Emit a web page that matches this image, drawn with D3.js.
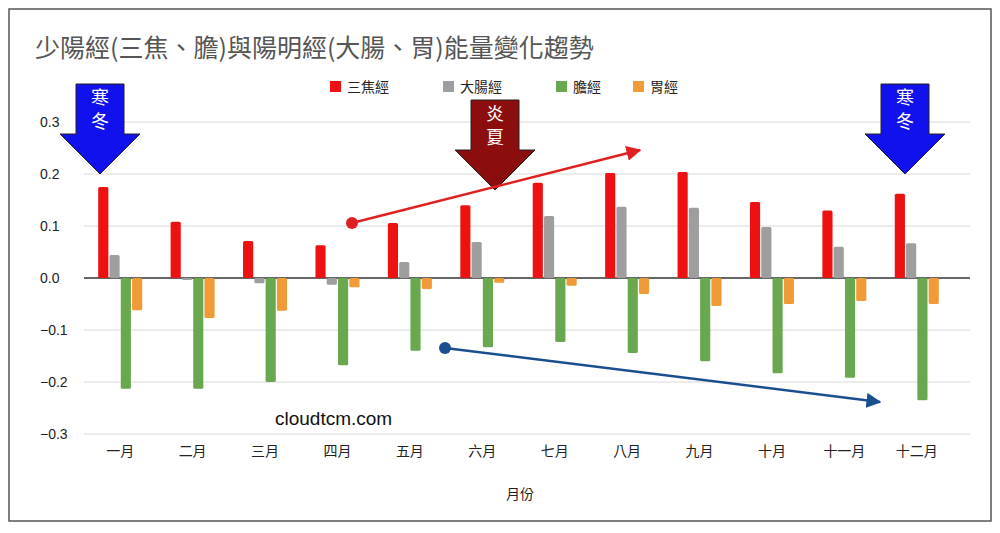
<!DOCTYPE html>
<html><head><meta charset="utf-8">
<script src="https://cdn.jsdelivr.net/npm/d3@7"></script>
<style>body{margin:0;background:#fff;font-family:"Noto Sans CJK TC","Noto Sans",sans-serif}</style>
</head><body><svg width="1000" height="533"></svg>
<script>
var months = ['一月','二月','三月','四月','五月','六月','七月','八月','九月','十月','十一月','十二月'];
var seriesNames = ['三焦經','大腸經','膽經','胃經'];
var palette = ['#ee1111','#9e9e9e','#6aa84f','#f09a38'];
var sanjiao = [0.175,0.108,0.071,0.063,0.106,0.140,0.183,0.202,0.204,0.146,0.130,0.162];
var dachang = [0.044,-0.004,-0.010,-0.013,0.031,0.069,0.119,0.137,0.135,0.098,0.060,0.067];
var dan = [-0.213,-0.213,-0.200,-0.168,-0.140,-0.133,-0.123,-0.144,-0.160,-0.183,-0.192,-0.235];
var wei = [-0.062,-0.077,-0.063,-0.018,-0.021,-0.009,-0.015,-0.031,-0.054,-0.050,-0.044,-0.050];
var yTicks = [-0.3,-0.2,-0.1,0,0.1,0.2,0.3];
var series = [sanjiao, dachang, dan, wei];

var svg = d3.select('svg');
svg.append('rect').attr('x',9).attr('y',9).attr('width',982).attr('height',512)
    .attr('fill','#fff').attr('stroke','#555').attr('stroke-width',1.5);

svg.append('text').attr('x',35).attr('y',57).attr('font-size',25).attr('fill','#555')
    .text('少陽經(三焦、膽)與陽明經(大腸、胃)能量變化趨勢');

var gridLeft = 84, gridRight = 970;
var x = d3.scaleBand().domain(months).range([84, 953]);
var y = d3.scaleLinear().domain([-0.3,0.3]).range([434,122]);
var xs = d3.scaleBand().domain(d3.range(4)).range([-22,22]).paddingInner(0.1);

// grid
svg.append('g').selectAll('line').data(yTicks).join('line')
    .attr('x1',gridLeft).attr('x2',gridRight).attr('y1',d=>y(d)).attr('y2',d=>y(d))
    .attr('stroke',d=>d===0?'#333':'#d8d8d8').attr('stroke-width',d=>d===0?1.5:1);
svg.append('g').selectAll('text').data(yTicks).join('text')
    .attr('x',40).attr('y',d=>y(d)+5).attr('font-size',14).attr('fill','#222')
    .attr('font-family','Liberation Sans, Arial').text(d=>d3.format('.1f')(d));

var g = svg.append('g');
series.forEach(function (vals, si) {
    g.selectAll('.s'+si).data(vals).join('rect')
        .attr('x',(d,i)=>x(months[i])+x.bandwidth()/2+xs(si))
        .attr('width',xs.bandwidth())
        .attr('y',d=>y(Math.max(0,d)))
        .attr('height',d=>Math.abs(y(d)-y(0)))
        .attr('rx',1.5).attr('fill',palette[si]);
});

svg.append('g').selectAll('text').data(months).join('text')
    .attr('x',d=>x(d)+x.bandwidth()/2).attr('y',456).attr('text-anchor','middle')
    .attr('font-size',14).attr('fill','#222').text(d=>d);
svg.append('text').attr('x',520).attr('y',499).attr('text-anchor','middle')
    .attr('font-size',14).attr('fill','#222').text('月份');

// legend
var lx = [330,443,556,633];
seriesNames.forEach(function (n,i) {
    svg.append('rect').attr('x',lx[i]).attr('y',81).attr('width',11).attr('height',11).attr('fill',palette[i]);
    svg.append('text').attr('x',lx[i]+17).attr('y',92).attr('font-size',14).attr('fill','#222').text(n);
});

// watermark
svg.append('text').attr('x',275).attr('y',425).attr('font-size',19).attr('fill','#111')
    .attr('font-family','Liberation Sans, Arial').text('cloudtcm.com');

// block arrows
function blockArrow(cx, top, fill, label) {
    var p = d3.path();
    p.moveTo(cx-24,top); p.lineTo(cx+24,top); p.lineTo(cx+24,top+50); p.lineTo(cx+40,top+50);
    p.lineTo(cx,top+90); p.lineTo(cx-40,top+50); p.lineTo(cx-24,top+50); p.closePath();
    svg.append('path').attr('d',p.toString()).attr('fill',fill).attr('stroke','#222').attr('stroke-width',1);
    label.split('').forEach(function (c,i) {
        svg.append('text').attr('x',cx).attr('y',top+20+i*24).attr('text-anchor','middle')
            .attr('font-size',18).attr('fill','#fff').text(c);
    });
}
blockArrow(100,84,'#1111ee','寒冬');
blockArrow(905,84,'#1111ee','寒冬');
blockArrow(495,100,'#8b0d0d','炎夏');

// trend arrows
var defs = svg.append('defs');
function marker(id,color){
    defs.append('marker').attr('id',id).attr('viewBox','0 0 10 10').attr('refX',9).attr('refY',5)
        .attr('markerWidth',6).attr('markerHeight',6).attr('orient','auto')
        .append('path').attr('d','M0,0L10,5L0,10z').attr('fill',color);
}
marker('mr','#e02020'); marker('mb','#1a4f8f');
svg.append('line').attr('x1',352).attr('y1',223).attr('x2',640).attr('y2',150)
    .attr('stroke','#e02020').attr('stroke-width',2.5).attr('marker-end','url(#mr)');
svg.append('circle').attr('cx',352).attr('cy',223).attr('r',6).attr('fill','#e02020');
svg.append('line').attr('x1',445).attr('y1',348).attr('x2',880).attr('y2',402)
    .attr('stroke','#1a4f8f').attr('stroke-width',2.5).attr('marker-end','url(#mb)');
svg.append('circle').attr('cx',445).attr('cy',348).attr('r',6).attr('fill','#1a4f8f');
</script></body></html>
